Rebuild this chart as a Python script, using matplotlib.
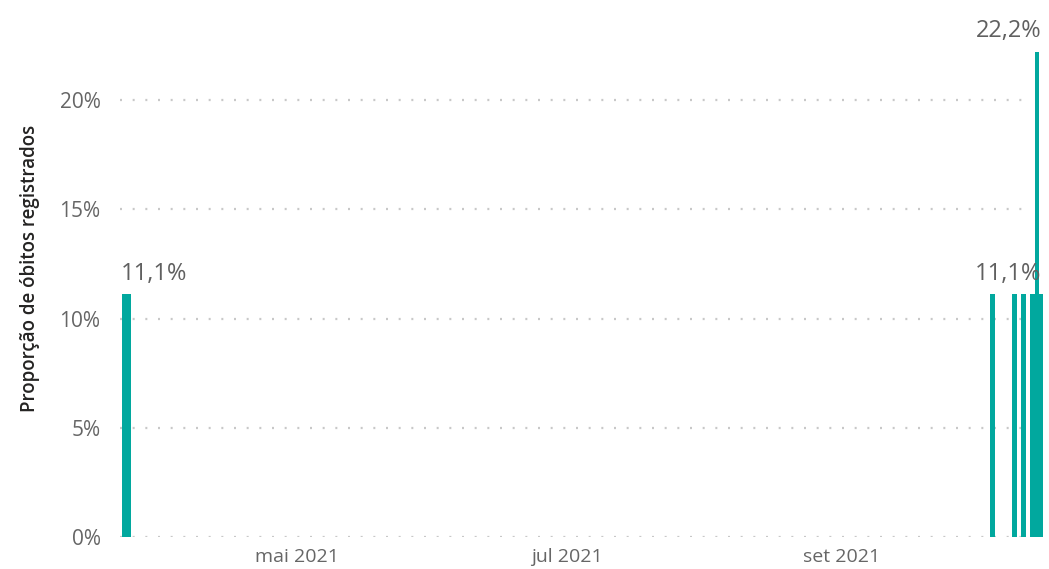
#!/usr/bin/env python3
"""Daily share of registered deaths, bar chart over 2021."""

import matplotlib

matplotlib.use("Agg")
import matplotlib.dates as mdates
import matplotlib.pyplot as plt
import pandas as pd

# data (share of deaths per day)
DATES = [
    "2021-03-23", "2021-03-24",
    "2021-10-05", "2021-10-10", "2021-10-12",
    "2021-10-14", "2021-10-15", "2021-10-16",
]
SHARES = [1 / 9, 1 / 9, 1 / 9, 1 / 9, 1 / 9, 1 / 9, 2 / 9, 1 / 9]

Y_TICKS = [0, 0.05, 0.10, 0.15, 0.20]
MONTH_TICKS = ["2021-05-01", "2021-07-01", "2021-09-01"]
MONTH_LABELS = ["mai 2021", "jul 2021", "set 2021"]

BAR_COLOR = "#01A89E"
TEXT_GRAY = "#666666"
FONT = ["Open Sans", "DejaVu Sans"]


def pct(v: float) -> str:
    return f"{v * 100:.1f}%".replace(".", ",")


def main() -> None:
    plt.rcParams["font.family"] = FONT
    W, H = 1049, 569
    fig = plt.figure(figsize=(W / 100, H / 100), dpi=100)

    # axes placed in pixel terms of the reference
    left, right, bottom, top = 120, 1046, 537, 51.5
    ax = fig.add_axes([left / W, 1 - bottom / H, (right - left) / W, (bottom - top) / H])

    dates = pd.to_datetime(DATES)
    ax.bar(dates, SHARES, width=1.0, color=BAR_COLOR, zorder=3)

    may1 = mdates.date2num(pd.Timestamp("2021-05-01"))
    px_per_day = 4.43
    ax.set_xlim(may1 + (left - 297) / px_per_day, may1 + (right - 297) / px_per_day)
    ax.set_ylim(0, 0.2222)

    ax.set_yticks(Y_TICKS)
    ax.set_yticklabels([f"{t * 100:.0f}%" for t in Y_TICKS])
    ax.set_xticks(pd.to_datetime(MONTH_TICKS))
    ax.set_xticklabels(MONTH_LABELS)
    ax.tick_params(axis="y", length=0, pad=14, labelsize=15, labelcolor=TEXT_GRAY)
    ax.tick_params(axis="x", length=0, pad=8, labelsize=14, labelcolor=TEXT_GRAY)
    for s in ax.spines.values():
        s.set_visible(False)

    for t in Y_TICKS:
        ax.axhline(t, xmax=0.985, color="#c8c8c8", lw=1.6,
                   linestyle=(0, (0.9, 4.8)), zorder=1)

    # data labels: first, last and maximum bars
    label_kw = dict(textcoords="offset pixels", fontsize=17, color="#606060",
                    va="bottom", annotation_clip=False)
    ax.annotate(pct(SHARES[0]), (dates[0], SHARES[0]), xytext=(-3, 8), ha="left", **label_kw)
    ax.annotate(pct(SHARES[-1]), (dates[-1], SHARES[-1]), xytext=(0, 8), ha="right", **label_kw)
    imax = max(range(len(SHARES)), key=lambda i: SHARES[i])
    ax.annotate(pct(SHARES[imax]), (dates[imax], SHARES[imax]), xytext=(5, 8), ha="right", **label_kw)

    fig.text(30 / W, 1 - 268 / H, "Proporção de óbitos registrados", rotation=90,
             ha="center", va="center", fontsize=13.5, fontweight="semibold", color="#252423")

    fig.savefig("out.png", dpi=100)
    plt.close(fig)


if __name__ == "__main__":
    main()
